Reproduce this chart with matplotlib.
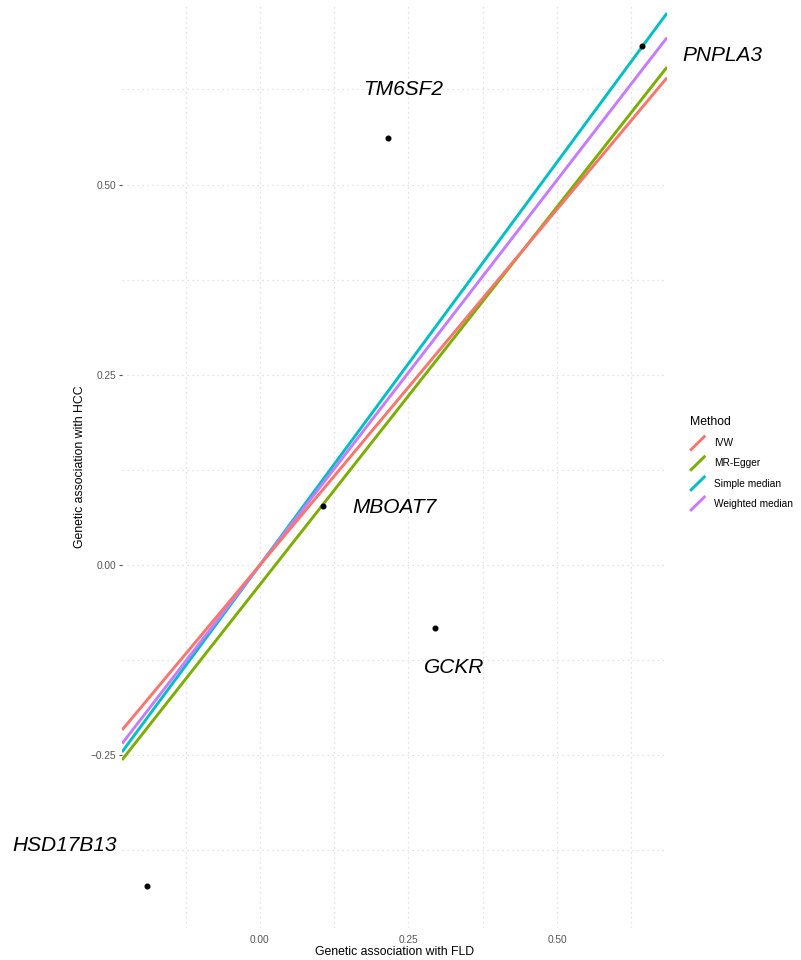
import numpy as np
import matplotlib
matplotlib.use("Agg")
import matplotlib.pyplot as plt
from matplotlib.legend_handler import HandlerLine2D
from matplotlib.lines import Line2D

plt.rcParams['font.family'] = ['Liberation Sans', 'DejaVu Sans']

# SNP associations
genes = ['PNPLA3', 'TM6SF2', 'MBOAT7', 'GCKR', 'HSD17B13']
beta_fld = [0.643, 0.2155, 0.106, 0.2946, -0.190]
beta_hcc = [0.682, 0.561, 0.0775, -0.0828, -0.422]
# label positions
lab_x = [0.778, 0.241, 0.227, 0.327, -0.328]
lab_y = [0.670, 0.6255, 0.076, -0.134, -0.369]

# MR estimates
methods = ['IVW', 'MR-Egger', 'Simple median', 'Weighted median']
slopes = [0.935, 0.993, 1.059, 1.012]
intercepts = [0.0, -0.0258, 0.0, 0.0]
colors = ['#F8766D', '#7CAE00', '#00BFC4', '#C77CFF']
zorders = [6, 5, 3, 4]

xlim = (-0.232, 0.685)
ylim = (-0.477, 0.736)


class DiagHandler(HandlerLine2D):
    # ggplot style slanted legend keys
    def create_artists(self, legend, orig_handle, xdescent, ydescent,
                       width, height, fontsize, trans):
        ln = Line2D([0, width], [-0.6 * height, 1.5 * height],
                    color=orig_handle.get_color(), lw=orig_handle.get_linewidth(),
                    solid_capstyle='butt')
        ln.set_transform(trans)
        return [ln]


fig = plt.figure(figsize=(8.01, 9.6), dpi=100)
ax = fig.add_axes([122 / 801, 1 - 928 / 960, 545 / 801, 923 / 960])

xx = np.array(xlim)
handles = []
for m, b, a, c, z in zip(methods, slopes, intercepts, colors, zorders):
    h, = ax.plot(xx, a + b * xx, color=c, lw=2.1, zorder=z, label=m,
                 solid_capstyle='butt')
    handles.append(h)

ax.scatter(beta_fld, beta_hcc, s=11, color='black', zorder=7)
for g, x, y in zip(genes, lab_x, lab_y):
    ax.text(x, y, g, fontsize=15, style='italic', ha='center', va='center',
            clip_on=False, zorder=8)

ax.set_xlim(xlim)
ax.set_ylim(ylim)
ax.set_xticks([0, 0.25, 0.5])
ax.set_xticklabels(['0.00', '0.25', '0.50'])
ax.set_yticks([-0.25, 0, 0.25, 0.5])
ax.set_yticklabels(['\u22120.25', '0.00', '0.25', '0.50'])
ax.set_xticks([-0.125, 0.125, 0.375, 0.625], minor=True)
ax.set_yticks([-0.375, -0.125, 0.125, 0.375, 0.625], minor=True)
ax.grid(True, which='both', color='#d9d9d9', ls=(0, (1, 3)), lw=0.9, zorder=0)
ax.set_axisbelow(True)
for s in ax.spines.values():
    s.set_visible(False)
ax.tick_params(axis='x', length=0, labelsize=7.3, labelcolor='#555555', pad=5)
ax.tick_params(axis='y', length=2.5, width=0.8, color='#555555',
               labelsize=7.3, labelcolor='#555555', pad=2)
ax.tick_params(which='minor', length=0)
ax.set_xlabel('Genetic association with FLD', fontsize=8.8, labelpad=1)
ax.set_ylabel('Genetic association with HCC', fontsize=8.8, labelpad=3)

leg = fig.legend(handles=handles, title='Method', loc='upper left',
                 bbox_to_anchor=(681 / 801, 1 - 407 / 960), frameon=False,
                 fontsize=7.3, title_fontsize=8.8, handlelength=1.5,
                 handletextpad=0.9, labelspacing=1.0, alignment='left',
                 handler_map={Line2D: DiagHandler()})

fig.savefig('out.png', dpi=100)
